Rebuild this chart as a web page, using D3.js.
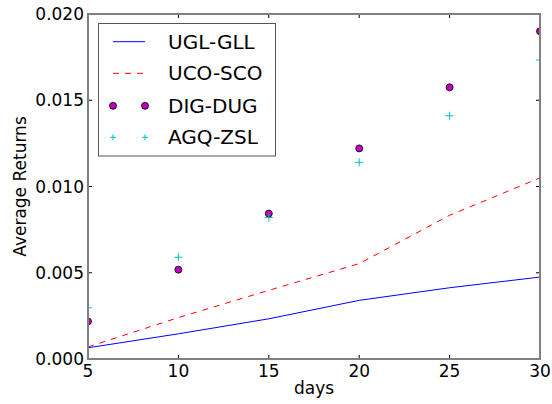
<!DOCTYPE html>
<html><head><meta charset="utf-8">
<script src="https://cdn.jsdelivr.net/npm/d3@7"></script>
<style>body{margin:0;background:#fff}svg{display:block;font-family:"DejaVu Sans",sans-serif}</style>
</head><body><svg id="c" width="552" height="404"></svg>
<script>
const days = [5, 10, 15, 20, 25, 30];
const uglGll = [0.00065, 0.00146, 0.00233, 0.0034, 0.00413, 0.00475];
const ucoSco = [0.0007, 0.0024, 0.00398, 0.00553, 0.00833, 0.0105];
const digDug = [0.00218, 0.00518, 0.00843, 0.01221, 0.01575, 0.0190];
const agqZsl = [0.00297, 0.0059, 0.0082, 0.0114, 0.0141, 0.01733];
const xTicks = [5, 10, 15, 20, 25, 30];
const yTicks = [0.000, 0.005, 0.010, 0.015, 0.020];

const svg = d3.select("#c");
const L = 88, R = 540, T = 14, B = 359;
const x = d3.scaleLinear().domain([5, 30]).range([L, R]);
const y = d3.scaleLinear().domain([0, 0.020]).range([B, T]);
const g = svg.append("g");

// ticks inward on all sides
const tk = 4;
xTicks.forEach(v => {
  g.append("line").attr("x1", x(v)).attr("x2", x(v)).attr("y1", B).attr("y2", B - tk).attr("stroke", "#000");
  g.append("line").attr("x1", x(v)).attr("x2", x(v)).attr("y1", T).attr("y2", T + tk).attr("stroke", "#000");
  g.append("text").attr("x", x(v)).attr("y", 377).attr("text-anchor", "middle").attr("font-size", 17).text(v);
});
yTicks.forEach(v => {
  g.append("line").attr("x1", L).attr("x2", L + tk).attr("y1", y(v)).attr("y2", y(v)).attr("stroke", "#000");
  g.append("line").attr("x1", R).attr("x2", R - tk).attr("y1", y(v)).attr("y2", y(v)).attr("stroke", "#000");
  g.append("text").attr("x", 84).attr("y", y(v) + 6).attr("text-anchor", "end").attr("font-size", 17).text(d3.format(".3f")(v));
});

const line = d3.line().x((d, i) => x(days[i])).y(d => y(d));
g.append("path").datum(uglGll).attr("d", line).attr("fill", "none").attr("stroke", "#0000ff").attr("stroke-width", 1);
g.append("path").datum(ucoSco).attr("d", line).attr("fill", "none").attr("stroke", "#ff0000").attr("stroke-width", 1).attr("stroke-dasharray", "6,6");

const clip = svg.append("clipPath").attr("id", "cp").append("rect").attr("x", L).attr("y", T).attr("width", R - L).attr("height", B - T);
const pts = g.append("g").attr("clip-path", "url(#cp)");
pts.selectAll("circle").data(digDug).join("circle")
  .attr("cx", (d, i) => x(days[i])).attr("cy", d => y(d)).attr("r", 3.5)
  .attr("fill", "#bf00bf").attr("stroke", "#000").attr("stroke-width", 0.8);
const plus = d3.symbol().type(d3.symbolCross);
pts.selectAll("path.p").data(agqZsl).join("path").attr("class", "p")
  .attr("d", (d, i) => `M${x(days[i]) - 4},${y(d)}h8M${x(days[i])},${y(d) - 4}v8`)
  .attr("stroke", "#00bfbf").attr("stroke-width", 1).attr("fill", "none");

// frame
g.append("rect").attr("x", L).attr("y", T).attr("width", R - L).attr("height", B - T)
  .attr("fill", "none").attr("stroke", "#808080").attr("stroke-width", 2);

// labels
g.append("text").attr("x", (L + R) / 2).attr("y", 394).attr("text-anchor", "middle").attr("font-size", 17).text("days");
g.append("text").attr("transform", "translate(26," + ((T + B) / 2) + ") rotate(-90)").attr("text-anchor", "middle").attr("font-size", 17).text("Average Returns");

// legend
const lg = g.append("g");
lg.append("rect").attr("x", 98.5).attr("y", 23.5).attr("width", 177).attr("height", 132.5)
  .attr("fill", "#fff").attr("stroke", "#555").attr("stroke-width", 1);
const names = ["UGL-GLL", "UCO-SCO", "DIG-DUG", "AGQ-ZSL"];
const rows = [41.7, 73.3, 105.8, 137.3];
lg.append("line").attr("x1", 113).attr("x2", 145).attr("y1", rows[0]).attr("y2", rows[0]).attr("stroke", "#0000ff");
lg.append("line").attr("x1", 113).attr("x2", 145).attr("y1", rows[1]).attr("y2", rows[1]).attr("stroke", "#ff0000").attr("stroke-dasharray", "6,6");
[113, 145].forEach(cx => {
  lg.append("circle").attr("cx", cx).attr("cy", rows[2]).attr("r", 3.5).attr("fill", "#bf00bf").attr("stroke", "#000").attr("stroke-width", 0.8);
  lg.append("path").attr("d", `M${cx - 3},${rows[3]}h6M${cx},${rows[3] - 3}v6`).attr("stroke", "#00bfbf").attr("fill", "none");
});
names.forEach((n, i) => {
  lg.append("text").attr("x", 168).attr("y", rows[i] + 7).attr("font-size", 20).text(n);
});
</script></body></html>
